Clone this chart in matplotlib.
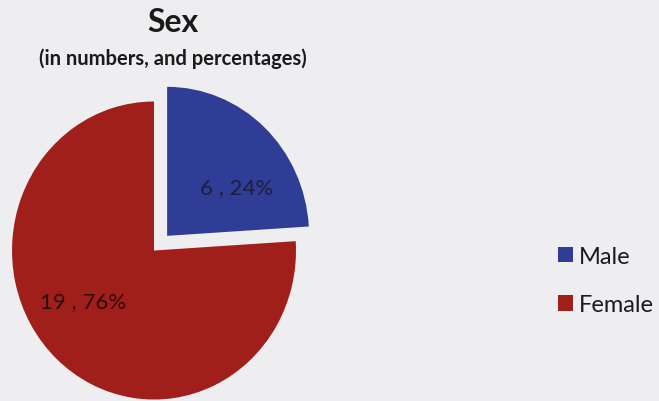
import matplotlib.pyplot as plt

# sex breakdown
labels = ['Male', 'Female']
counts = [6, 19]
colors = ['#2f3d96', '#a11f1b']
explode = [0.135, 0]

total = sum(counts)
pcts = [round(c * 100 / total) for c in counts]

plt.rcParams['font.family'] = ['Lato', 'DejaVu Sans']

fig = plt.figure(figsize=(6.59, 4.02), dpi=100)
fig.patch.set_facecolor('#eeeef0')

# pie is a little taller than wide, and runs off the left/bottom edge
ax = fig.add_axes([-0.0464, -0.1075, 0.5602, 0.9637])
wedges, _ = ax.pie(counts, colors=colors, explode=explode, startangle=90,
                   counterclock=False, radius=1.0)
ax.set_aspect('auto')
ax.set_xlim(-1.3, 1.3)
ax.set_ylim(-1.3, 1.3)
ax.axis('off')

# value labels
label_pos = [(0.585, 0.426), (-0.5, -0.339)]
label_col = ['#1d1f3a', '#2a0d0b']
for (x, y), c, p, col in zip(label_pos, counts, pcts, label_col):
    ax.text(x, y, '%d , %d%%' % (c, p), ha='center', va='center',
            fontsize=16, color=col)

fig.text(0.262, 0.943, 'Sex', ha='center', va='center',
         fontsize=23, fontweight='bold', color='#1a1a1a')
fig.text(0.262, 0.853, '(in numbers, and percentages)', ha='center', va='center',
         fontsize=14.5, fontweight='bold', color='#1a1a1a')

leg = fig.legend(wedges, labels, loc='center left', bbox_to_anchor=(0.846, 0.30),
                 frameon=False, fontsize=17, handlelength=0.65, handleheight=0.65,
                 handletextpad=0.25, labelspacing=1.15, borderpad=0.0,
                 borderaxespad=0.0)
for t in leg.get_texts():
    t.set_color('#1a1a1a')

fig.savefig('out.png', dpi=100, facecolor=fig.get_facecolor())
